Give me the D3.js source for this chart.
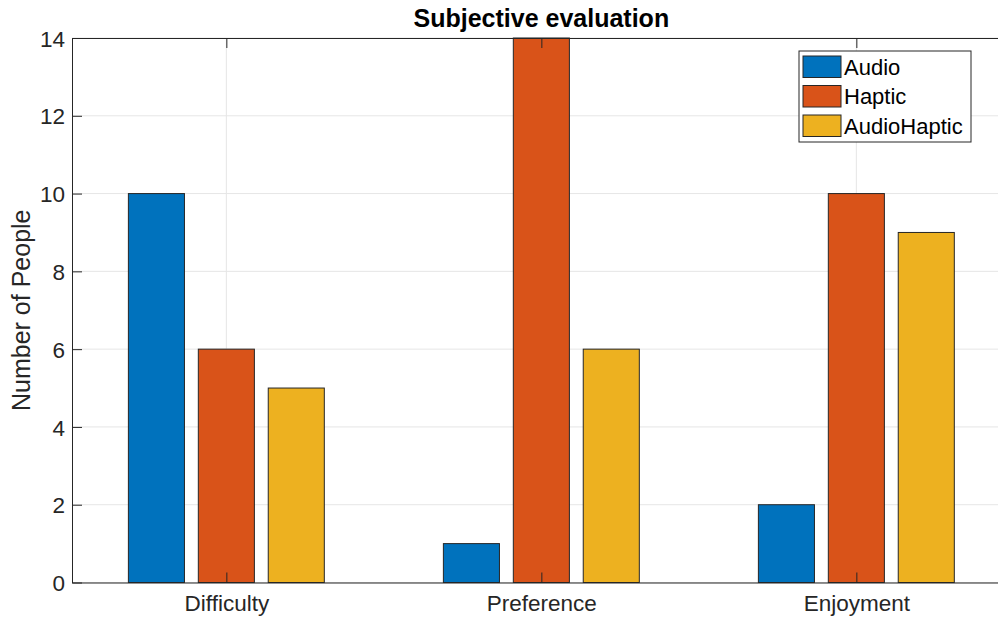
<!DOCTYPE html>
<html>
<head>
<meta charset="utf-8">
<script src="https://cdn.jsdelivr.net/npm/d3@7"></script>
<style>
  body { margin: 0; background: #fff; }
  svg { display: block; font-family: "Liberation Sans", Arial, sans-serif; }
</style>
</head>
<body>
<div id="chart"></div>
<script>
// data
var categories = ["Difficulty", "Preference", "Enjoyment"];
var seriesNames = ["Audio", "Haptic", "AudioHaptic"];
var audio = [10, 1, 2];
var haptic = [6, 14, 10];
var audioHaptic = [5, 6, 9];
var yTicks = [0, 2, 4, 6, 8, 10, 12, 14];
var colors = ["#0072BD", "#D95319", "#EDB120"];

var W = 998, H = 621;
var plotLeft = 72, plotTop = 38, plotBottom = 582.5;
var series = [audio, haptic, audioHaptic];

var svg = d3.select("#chart").append("svg")
    .attr("width", W).attr("height", H);

// x in category units, like matlab's bar() with xlim slightly inside [0.5, 3.5]
var x = d3.scaleLinear().domain([0.51, 3.49]).range([plotLeft, plotLeft + 2.98 * 315]);
var y = d3.scaleLinear().domain([0, 14]).range([plotBottom, plotTop]);
var plotRight = x.range()[1];

var grid = svg.append("g").attr("class", "grid");
grid.selectAll("line.h").data(yTicks).enter().append("line")
    .attr("x1", plotLeft).attr("x2", plotRight)
    .attr("y1", d => y(d)).attr("y2", d => y(d))
    .attr("stroke", "#e6e6e6").attr("stroke-width", 1);
grid.selectAll("line.v").data(categories).enter().append("line")
    .attr("x1", (d, i) => x(i + 1)).attr("x2", (d, i) => x(i + 1))
    .attr("y1", plotTop).attr("y2", plotBottom)
    .attr("stroke", "#e6e6e6").attr("stroke-width", 1);

// bars
var offset = 0.222, bw = 0.178;
var plot = svg.append("g");
series.forEach(function (vals, s) {
    plot.selectAll("rect.s" + s).data(vals).enter().append("rect")
        .attr("class", "s" + s)
        .attr("x", (d, i) => x(i + 1 + (s - 1) * offset - bw / 2))
        .attr("width", x(bw) - x(0))
        .attr("y", d => y(d))
        .attr("height", d => y(0) - y(d))
        .attr("fill", colors[s])
        .attr("stroke", "#262626").attr("stroke-width", 1);
});

// axes
var yAxis = d3.axisLeft(y).tickValues(yTicks).tickSizeInner(-10).tickSizeOuter(0).tickPadding(7);
var gy = svg.append("g").attr("transform", `translate(${plotLeft},0)`).call(yAxis);
var xAxis = d3.axisBottom(x).tickValues([1, 2, 3]).tickFormat((d, i) => categories[i])
    .tickSizeInner(-10).tickSizeOuter(0).tickPadding(13);
var gx = svg.append("g").attr("transform", `translate(0,${plotBottom})`).call(xAxis);
var gt = svg.append("g").attr("transform", `translate(0,${plotTop})`)
    .call(d3.axisTop(x).tickValues([1, 2, 3]).tickFormat("").tickSizeInner(-10).tickSizeOuter(0));

[gx, gy, gt].forEach(function (g) {
    g.selectAll("path").attr("stroke", "#262626").attr("stroke-width", 1);
    g.selectAll("line").attr("stroke", "#262626").attr("stroke-width", 1);
    g.selectAll("text").attr("fill", "#262626").style("font-size", "22.5px")
        .style("font-family", "'Liberation Sans', Arial, sans-serif");
});
gy.selectAll("text").attr("dy", "0.36em");
gx.selectAll("text").attr("dy", "0.7em");

// title + label
svg.append("text").attr("x", (plotLeft + plotRight) / 2).attr("y", 27)
    .attr("text-anchor", "middle").style("font-weight", "bold").style("font-size", "25px")
    .attr("fill", "#000").text("Subjective evaluation");
svg.append("text").attr("transform", `translate(30,${(plotTop + plotBottom) / 2}) rotate(-90)`)
    .attr("text-anchor", "middle").style("font-size", "25px").attr("fill", "#262626")
    .text("Number of People");

// legend
var lg = svg.append("g").attr("transform", "translate(799,51)");
lg.append("rect").attr("width", 172).attr("height", 91)
    .attr("fill", "#fff").attr("stroke", "#262626").attr("stroke-width", 1);
seriesNames.forEach(function (name, i) {
    lg.append("rect").attr("x", 4).attr("y", 5 + i * 29.5).attr("width", 38).attr("height", 21.5)
        .attr("fill", colors[i]).attr("stroke", "#262626").attr("stroke-width", 1);
    lg.append("text").attr("x", 45).attr("y", 16 + i * 29.5).attr("dy", "0.36em")
        .style("font-size", "22px").attr("fill", "#000").text(name);
});
</script>
</body>
</html>
